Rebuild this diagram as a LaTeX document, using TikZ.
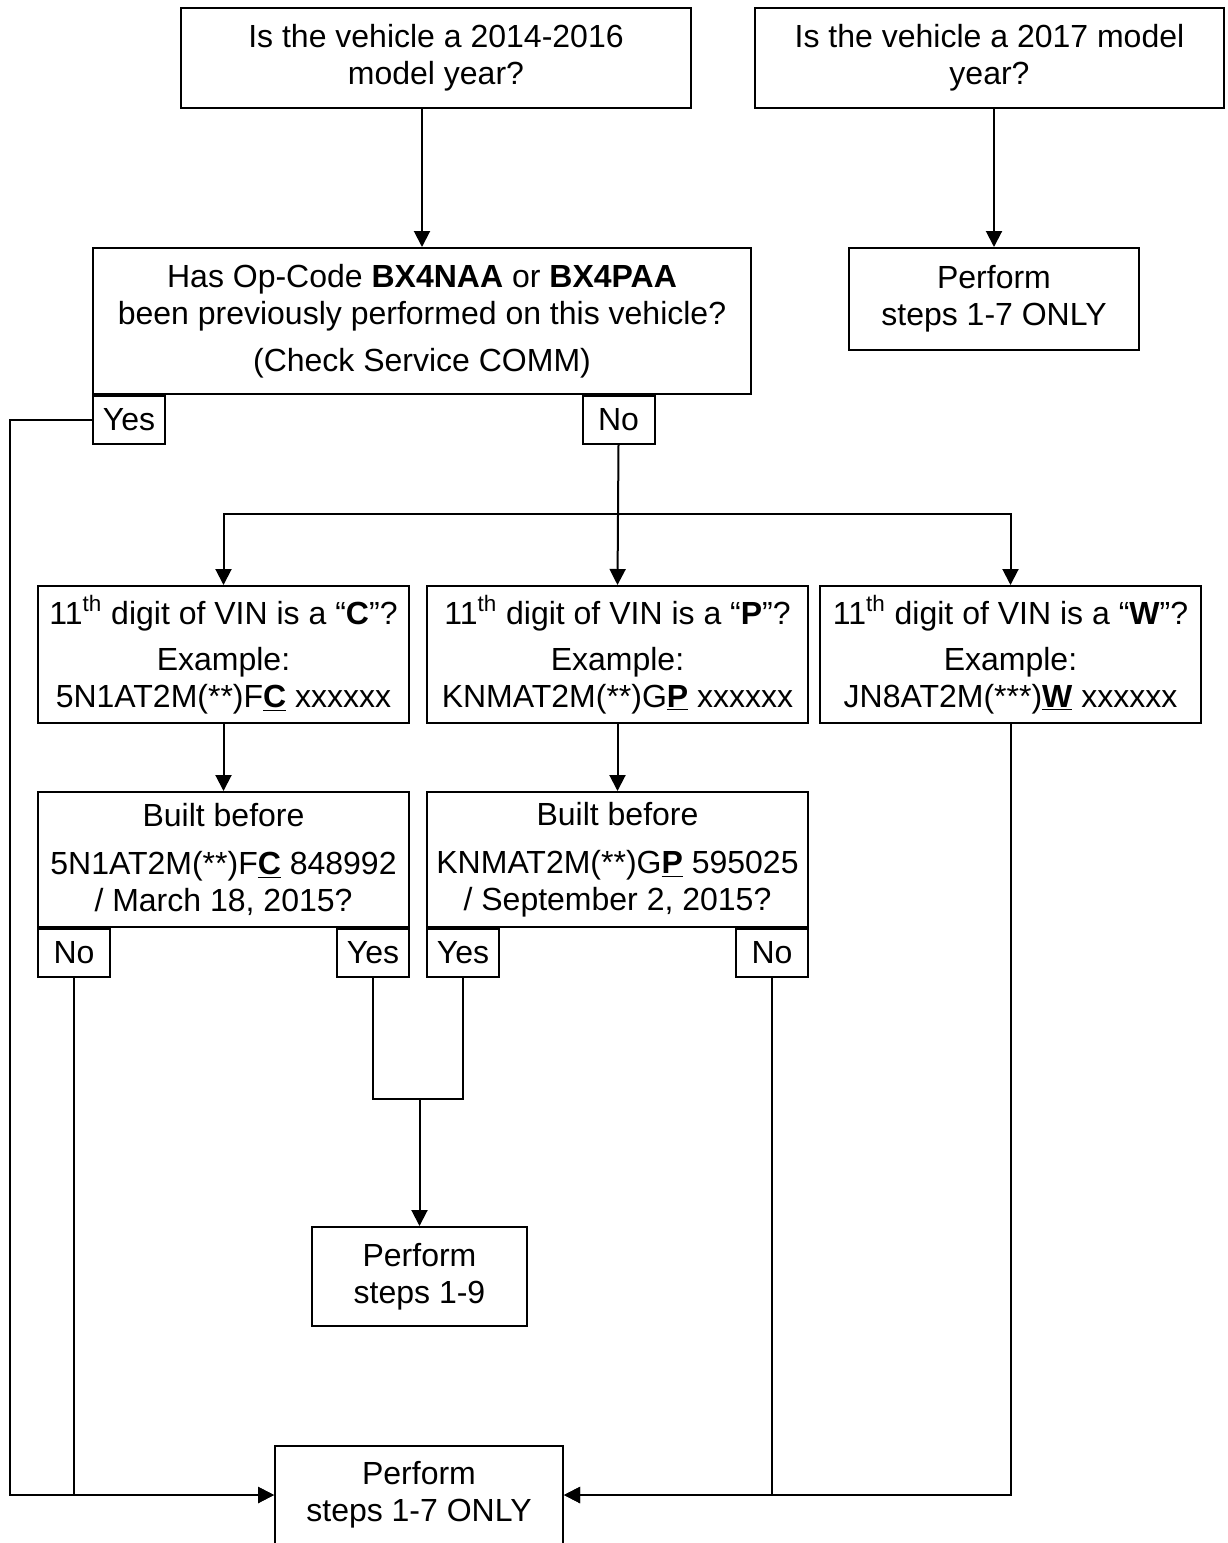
\documentclass[tikz,border=0pt]{standalone}
\usepackage{fontspec}
\setmainfont{Liberation Sans}
\usetikzlibrary{arrows.meta,positioning}

\begin{document}
\begin{tikzpicture}[x=0.5pt,y=-0.5pt,
    every node/.style = {font=\fontsize{16}{18.5}\selectfont, align=center, inner sep=0pt},
    box/.style = {draw, line width=1pt},
    tab/.style = {draw, line width=1pt, minimum width=36pt, minimum height=24pt},
    arr/.style = {-{Triangle[length=8pt,width=8pt]}, line width=1pt},
    wire/.style = {line width=1pt}
  ]
  \useasboundingbox (0,0) rectangle (1227,1543);
  \clip (0,0) rectangle (1227,1543);

  % questions at the top
  \node[box, minimum width=255pt, minimum height=50pt] (qa) at (436,58) {Is the vehicle a 2014-2016\\model year?};
  \node[box, minimum width=234.5pt, minimum height=50pt] (qb) at (989.5,58) {Is the vehicle a 2017 model\\year?};
  \node[box, minimum width=329pt, minimum height=73pt] (op) at (422,321)
    {Has Op-Code \textbf{BX4NAA} or \textbf{BX4PAA}\\been previously performed on this vehicle?\\[5pt](Check Service COMM)};
  \node[box, minimum width=145pt, minimum height=51pt] (pb) at (994,299) {Perform\\steps 1-7 ONLY};
  \node[tab, below right=0pt and 0pt of op.south west] (yes0) {Yes};
  \node[tab, anchor=north] (no0) at (618.5,0 |- op.south) {No};

  % VIN checks
  \node[box, minimum width=185.5pt, minimum height=68.5pt] (vc) at (223.5,654.5)
    {11\textsuperscript{th} digit of VIN is a “\textbf{C}”?\\[4.5pt]Example:\\5N1AT2M(**)F\underline{\textbf{C}} xxxxxx};
  \node[box, minimum width=190.5pt, minimum height=68.5pt] (vp) at (617.5,654.5)
    {11\textsuperscript{th} digit of VIN is a “\textbf{P}”?\\[4.5pt]Example:\\KNMAT2M(**)G\underline{\textbf{P}} xxxxxx};
  \node[box, minimum width=190.5pt, minimum height=68.5pt] (vw) at (1010.5,654.5)
    {11\textsuperscript{th} digit of VIN is a “\textbf{W}”?\\[4.5pt]Example:\\JN8AT2M(***)\underline{\textbf{W}} xxxxxx};

  % build dates
  \node[box, minimum width=185.5pt, minimum height=67.5pt] (bc) at (223.5,859.5)
    {Built before\\[5.5pt]5N1AT2M(**)F\underline{\textbf{C}} 848992\\/ March 18, 2015?};
  \node[box, minimum width=190.5pt, minimum height=67.5pt] (bp) at (617.5,859.5)
    {Built before\\[5.5pt]KNMAT2M(**)G\underline{\textbf{P}} 595025\\/ September 2, 2015?};
  \node[tab, below right=0pt and 0pt of bc.south west] (bcno) {No};
  \node[tab, below left=0pt and 0pt of bc.south east] (bcyes) {Yes};
  \node[tab, below right=0pt and 0pt of bp.south west] (bpyes) {Yes};
  \node[tab, below left=0pt and 0pt of bp.south east] (bpno) {No};

  % results
  \node[box, minimum width=107.5pt, minimum height=49.5pt] (p9) at (419.5,1276.5) {Perform\\steps 1-9};
  \node[box, minimum width=144pt, anchor=north, inner ysep=7.5pt] (p7) at (419,1445) {Perform\\steps 1-7 ONLY\\ \strut};

  \coordinate (p7w) at ([yshift=-25pt]p7.north west);
  \coordinate (p7e) at ([yshift=-25pt]p7.north east);
  \coordinate (outer) at (10,1495);
  \coordinate (split) at (0,514);
  \coordinate (join) at (p9.north |- 0,1099);

  \draw[arr] (op.north |- qa.south) -- (op.north);
  \draw[arr] (pb.north |- qb.south) -- (pb.north);
  \draw[arr] (yes0.west) -| (outer) -- (p7w);

  \draw[arr] (no0.south) -- (vp.north);
  \draw[arr] (vp.north |- split) -| (vc.north);
  \draw[arr] (vp.north |- split) -| (vw.north);
  \draw[arr] (vc.south) -- (bc.north);
  \draw[arr] (vp.south) -- (bp.north);

  \draw[wire] (bcyes.south) |- (join) -| (bpyes.south);
  \draw[arr] (join) -- (p9.north);
  \draw[arr] (bcno.south) |- (p7w);
  \draw[arr] (bpno.south) |- (p7e);
  \draw[arr] (vw.south) |- (p7e);
\end{tikzpicture}
\end{document}
